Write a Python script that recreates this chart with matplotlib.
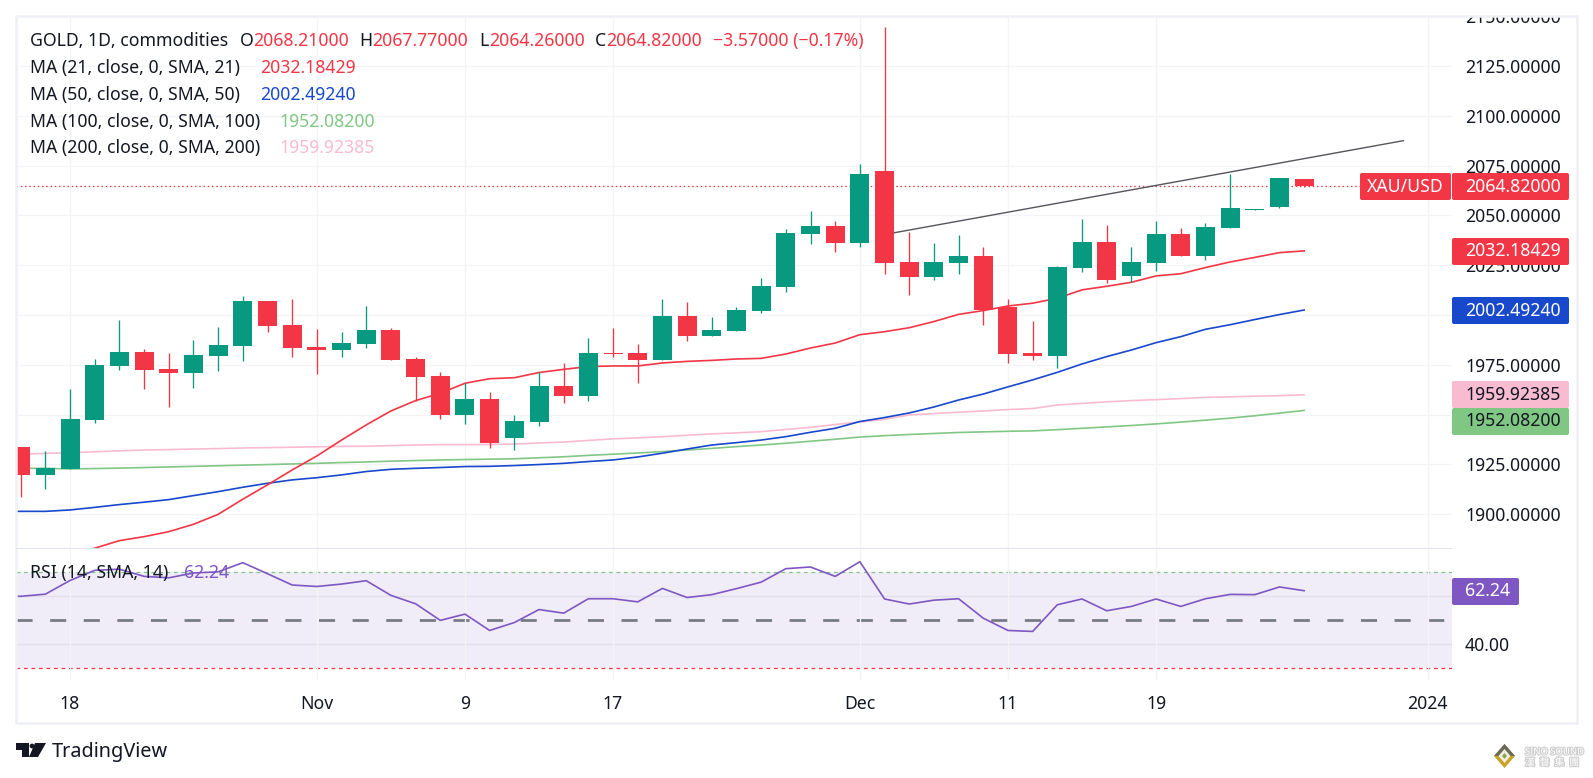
import numpy as np
import matplotlib
matplotlib.use("Agg")
import matplotlib.pyplot as plt
import matplotlib.patheffects as pe
from matplotlib.patches import Rectangle, FancyBboxPatch, Polygon, Circle
from matplotlib.transforms import Affine2D, Bbox

plt.rcParams['font.family'] = ['Noto Sans', 'Noto Sans CJK SC', 'DejaVu Sans']

### daily candles
opens = [1933.7, 1919.8, 1922.7, 1947.3, 1974.4, 1981.4, 1972.9, 1970.9, 1979.4, 1984.4,
         2007.0, 1995.0, 1983.9, 1982.4, 1985.4, 1992.5, 1977.9, 1969.4, 1949.8, 1957.8,
         1938.3, 1946.3, 1964.4, 1959.3, 1980.9, 1980.9, 1977.4, 1999.5, 1989.5, 1992.0,
         2002.0, 2014.1, 2040.7, 2044.7, 2036.1, 2072.3, 2026.6, 2019.1, 2026.1, 2029.6,
         2004.2, 1980.9, 1979.4, 2023.6, 2036.6, 2019.6, 2026.1, 2040.7, 2029.6, 2043.7,
         2052.7, 2054.2, 2068.21]
highs = [1933.7, 1931.7, 1962.9, 1977.9, 1997.5, 1982.9, 1980.9, 1987.4, 1994.0, 2009.5,
         2007.0, 2008.0, 1993.0, 1991.5, 2004.5, 1993.5, 1978.9, 1971.4, 1965.9, 1961.3,
         1949.8, 1971.4, 1975.9, 1988.5, 1993.5, 1985.4, 2008.0, 2006.5, 1999.0, 2004.0,
         2018.6, 2043.2, 2052.2, 2047.2, 2075.8, 2144.6, 2041.7, 2036.1, 2040.2, 2034.1,
         2008.0, 1997.0, 2024.6, 2048.2, 2045.2, 2034.1, 2047.2, 2043.7, 2046.2, 2070.8,
         2053.2, 2068.8, 2068.21]
lows = [1908.6, 1912.7, 1922.7, 1945.8, 1972.4, 1962.9, 1953.8, 1963.4, 1971.9, 1976.9,
        1991.5, 1978.9, 1970.4, 1978.9, 1983.4, 1977.4, 1956.8, 1947.8, 1945.3, 1933.2,
        1932.2, 1944.3, 1955.8, 1956.8, 1978.9, 1965.9, 1977.4, 1986.9, 1989.5, 1992.0,
        2001.0, 2011.5, 2035.6, 2031.6, 2034.1, 2020.6, 2010.0, 2017.6, 2020.6, 1995.0,
        1975.9, 1977.4, 1973.4, 2021.6, 2016.1, 2016.6, 2022.1, 2029.6, 2027.6, 2043.7,
        2052.7, 2053.7, 2064.26]
closes = [1919.8, 1923.2, 1947.8, 1974.9, 1981.4, 1972.4, 1970.9, 1979.9, 1984.9, 2007.0,
          1994.5, 1983.4, 1982.4, 1985.9, 1992.5, 1977.4, 1968.9, 1949.8, 1957.8, 1935.7,
          1946.8, 1964.4, 1959.3, 1980.9, 1980.4, 1977.4, 1999.5, 1989.5, 1992.5, 2002.5,
          2014.6, 2041.2, 2044.7, 2036.1, 2070.8, 2026.1, 2019.1, 2026.6, 2029.6, 2002.5,
          1980.4, 1979.4, 2024.1, 2036.6, 2017.6, 2026.6, 2040.7, 2029.6, 2044.2, 2053.7,
          2053.2, 2068.8, 2064.82]

# moving averages, first value sits just left of the first candle
ma21 = [1869.0, 1872.0, 1875.3, 1879.0, 1882.9, 1886.7, 1888.7, 1891.2, 1894.9, 1899.9,
        1907.5, 1914.7, 1922.2, 1929.2, 1937.2, 1944.8, 1951.8, 1957.0, 1960.7, 1965.7,
        1968.0, 1968.5, 1971.1, 1972.7, 1974.1, 1974.4, 1974.4, 1975.9, 1976.7, 1977.2,
        1977.9, 1978.2, 1980.4, 1983.4, 1985.9, 1990.1, 1991.6, 1993.6, 1996.7, 2000.3,
        2002.2, 2004.5, 2005.9, 2008.4, 2012.6, 2014.4, 2016.4, 2019.6, 2020.7, 2023.8,
        2026.6, 2028.9, 2031.3, 2032.18]
ma50 = [1901.4, 1901.4, 1901.4, 1902.1, 1903.4, 1904.8, 1906.0, 1907.3, 1909.3, 1911.3,
        1913.5, 1915.5, 1917.2, 1918.3, 1919.7, 1921.4, 1922.5, 1923.0, 1923.4, 1923.9,
        1924.0, 1924.4, 1924.9, 1925.5, 1926.4, 1927.2, 1928.7, 1930.6, 1932.7, 1934.7,
        1935.9, 1937.2, 1938.9, 1941.1, 1943.1, 1946.5, 1948.5, 1950.8, 1953.8, 1957.3,
        1960.3, 1963.9, 1967.4, 1971.2, 1975.4, 1979.1, 1982.4, 1986.1, 1989.1, 1992.8,
        1995.1, 1997.7, 2000.2, 2002.49]
ma100 = [1923.0, 1923.0, 1923.0, 1922.7, 1922.9, 1923.1, 1923.4, 1923.7, 1924.0, 1924.3,
         1924.6, 1924.9, 1925.2, 1925.5, 1925.9, 1926.2, 1926.6, 1926.9, 1927.2, 1927.4,
         1927.6, 1927.8, 1928.3, 1928.8, 1929.5, 1930.1, 1930.7, 1931.4, 1932.2, 1933.0,
         1933.9, 1934.7, 1935.6, 1936.6, 1937.6, 1938.7, 1939.4, 1940.0, 1940.5, 1941.0,
         1941.3, 1941.6, 1941.8, 1942.4, 1943.1, 1943.8, 1944.5, 1945.3, 1946.2, 1947.2,
         1948.2, 1949.4, 1950.7, 1952.08]
ma200 = [1929.7, 1930.1, 1930.5, 1930.9, 1931.3, 1931.8, 1932.2, 1932.4, 1932.7, 1932.9,
         1933.2, 1933.4, 1933.6, 1933.8, 1934.0, 1934.1, 1934.4, 1934.7, 1934.9, 1934.9,
         1935.0, 1935.2, 1935.7, 1936.2, 1937.0, 1937.8, 1938.3, 1938.9, 1939.6, 1940.3,
         1940.8, 1941.4, 1942.5, 1943.6, 1945.0, 1946.3, 1947.6, 1949.8, 1950.5, 1951.2,
         1951.8, 1952.5, 1953.0, 1954.8, 1955.6, 1956.4, 1957.0, 1957.5, 1958.0, 1958.6,
         1958.9, 1959.2, 1959.5, 1959.92]
rsi = [60.1, 59.9, 60.8, 66.5, 70.7, 71.2, 68.2, 67.6, 69.6, 70.1,
       73.9, 69.3, 64.6, 64.0, 65.0, 66.4, 60.3, 56.8, 49.9, 52.5,
       45.7, 49.0, 54.4, 52.9, 58.9, 58.9, 57.6, 63.2, 59.4, 60.6,
       63.1, 65.8, 71.4, 72.1, 68.2, 74.3, 58.8, 56.7, 58.3, 58.9,
       50.8, 45.7, 45.3, 56.4, 58.8, 53.9, 55.7, 58.8, 55.7, 58.9,
       60.7, 60.6, 63.8, 62.24]

trend_x = [35, 56.02]
trend_y = [2040.4, 2087.5]
last_price = 2064.82

price_ticks = [1900, 1925, 1950, 1975, 2000, 2025, 2050, 2075, 2100, 2125, 2150]
covered_ticks = [1950, 2000]     # sit behind the coloured price labels
time_ticks = [2, 12, 18, 24, 34, 40, 46, 57]
time_labels = ['18', 'Nov', '9', '17', 'Dec', '11', '19', '2024']

GREEN = '#089981'
RED = '#f23645'
BLUE = '#1848cc'
LIGHT_GREEN = '#81c784'
PINK = '#f8bbd0'
PURPLE = '#7e57c2'
INK = '#131722'
GRID = '#f4f4f7'
FS = 12.7

W, H = 1593, 778
fig = plt.figure(figsize=(W / 100, H / 100), dpi=100)
px = Affine2D().scale(1, -1).translate(0, H)   # pixel coords, origin top left

ax = fig.add_axes([16 / W, 1 - 548 / H, 1436 / W, 532 / H])
ax2 = fig.add_axes([16 / W, 1 - 680 / H, 1436 / W, 132 / H], sharex=ax)

### candles
idx = np.arange(len(closes))
o, h, l, c = map(np.array, (opens, highs, lows, closes))
up = c >= o
cols = np.where(up, GREEN, RED)
line_x = np.arange(-1, len(closes))

ax.axhline(last_price, color=RED, lw=0.9, ls=(0, (1.2, 2.2)), zorder=1)
ax.plot(trend_x, trend_y, color='#55555c', lw=1.0, zorder=1.5)
ax.plot(line_x, ma200, color=PINK, lw=1.2, zorder=2)
ax.plot(line_x, ma100, color=LIGHT_GREEN, lw=1.2, zorder=2)
ax.plot(line_x, ma50, color=BLUE, lw=1.2, zorder=2)
ax.plot(line_x, ma21, color=RED, lw=1.2, zorder=2)
ax.vlines(idx, l, h, colors=cols, lw=0.95, zorder=3)
ax.bar(idx, np.maximum(np.abs(c - o), 0.5), bottom=np.minimum(o, c), width=0.77, color=cols, lw=0, zorder=4)

ax.set_xlim(-0.19, 57.99)
ax.set_ylim(1883.0, 2150.1)
ax.set_yticks(price_ticks)
ax.set_yticklabels(['' if v in covered_ticks else '%.5f' % v for v in price_ticks])
ax.yaxis.tick_right()
ax.tick_params(axis='y', length=0, pad=9.4, labelsize=FS, labelcolor=INK)
ax.tick_params(axis='x', length=0, labelbottom=False)
ax.set_xticks(time_ticks)
ax.grid(True, color=GRID, lw=0.9)
ax.set_axisbelow(True)
for s in ax.spines.values():
    s.set_visible(False)
for lab in ax.get_yticklabels():
    lab.set_clip_box(Bbox([[0, 0], [W, H - 16]]))   # top label is cut by the frame
    lab.set_clip_on(True)

### RSI
ax2.axhspan(30, 70, color='#f0edf8', lw=0, zorder=0)
ax2.axhline(70, color=LIGHT_GREEN, lw=0.9, ls=(0, (3, 3)), zorder=1)
ax2.axhline(30, color=RED, lw=0.9, ls=(0, (3, 3)), zorder=1)
ax2.axhline(50, color='#787b86', lw=2.0, ls=(0, (5.8, 6.3)), zorder=1)
ax2.plot(line_x, rsi, color=PURPLE, lw=1.2, zorder=3)
ax2.set_ylim(25.1, 80)
ax2.set_yticks([40, 60])
ax2.set_yticklabels(['40.00', ''])
ax2.yaxis.tick_right()
ax2.tick_params(axis='y', length=0, pad=9.4, labelsize=FS, labelcolor=INK)
ax2.set_xticks(time_ticks)
ax2.set_xticklabels(time_labels)
ax2.tick_params(axis='x', length=0, pad=11, labelsize=FS, labelcolor=INK)
ax2.get_xticklabels()[-1].set_fontweight('bold')
ax2.grid(True, axis='x', color=GRID, lw=0.9, zorder=0)
for v in [40, 60]:
    ax2.axhline(v, color='#e3dff0', lw=1.0, zorder=0.5)
ax2.patch.set_alpha(0)
for s in ax2.spines.values():
    s.set_visible(False)

### frame and separator
fig.add_artist(Rectangle((15.5, 15.5), 1561, 707, fill=False, ec='#eff0f5', lw=1.8, transform=px))
fig.add_artist(Rectangle((16, 547.5), 1436, 1.5, fc='#e0e3eb', ec='none', transform=px))

### price labels on the scale
def price_box(x0, x1, y0, y1, fc, txt, tc='white', tx=1465, ha='left'):
    fig.add_artist(FancyBboxPatch((x0, y0), x1 - x0, y1 - y0, boxstyle='round,pad=0,rounding_size=2',
                                  fc=fc, ec='none', transform=px))
    fig.text(tx, (y0 + y1) / 2, txt, color=tc, fontsize=FS, va='center', ha=ha, transform=px)

price_box(1360, 1451, 173, 200, RED, 'XAU/USD', tx=1405.5, ha='center')
price_box(1452, 1569, 173, 200, RED, '2064.82000')
price_box(1452, 1569, 238, 265, RED, '2032.18429')
price_box(1452, 1569, 297, 324, BLUE, '2002.49240')
price_box(1452, 1569, 381, 408, PINK, '1959.92385', tc=INK)
price_box(1452, 1569, 408, 435, LIGHT_GREEN, '1952.08200', tc=INK)
price_box(1452, 1519, 578, 605, PURPLE, '62.24')

### legend
def t(x, y, s, col=INK):
    fig.text(x, y, s, color=col, fontsize=FS, va='center', ha='left', transform=px)

t(29.6, 40.7, 'GOLD, 1D, commodities')
t(240, 40.7, 'O')
t(253.4, 40.7, '2068.21000', RED)
t(359.3, 40.7, 'H')
t(372, 40.7, '2067.77000', RED)
t(479, 40.7, 'L')
t(488.8, 40.7, '2064.26000', RED)
t(594.6, 40.7, 'C')
t(606, 40.7, '2064.82000', RED)
t(713, 40.7, '\u22123.57000 (\u22120.17%)', RED)
t(29.6, 67.7, 'MA (21, close, 0, SMA, 21)')
t(260, 67.7, '2032.18429', RED)
t(29.6, 95, 'MA (50, close, 0, SMA, 50)')
t(260, 95, '2002.49240', BLUE)
t(29.6, 121.7, 'MA (100, close, 0, SMA, 100)')
t(279.8, 121.7, '1952.08200', LIGHT_GREEN)
t(29.6, 148.3, 'MA (200, close, 0, SMA, 200)')
t(279.8, 148.3, '1959.92385', PINK)
t(29.6, 573, 'RSI (14, SMA, 14)')
t(183.7, 573, '62.24', PURPLE)

### TradingView logo
fig.add_artist(Polygon([(16, 743), (28.5, 743), (28.5, 757), (21.8, 757), (21.8, 749.5), (16, 749.5)], fc=INK, ec='none', transform=px))
fig.add_artist(Circle((32, 746), 2.4, fc=INK, ec='none', transform=px))
fig.add_artist(Polygon([(35, 743), (46, 743), (38, 757), (29, 757)], fc=INK, ec='none', transform=px))
fig.text(52, 751.5, 'TradingView', color=INK, fontsize=14.3, va='center', ha='left', transform=px)

### watermark
fig.add_artist(Polygon([(1504.5, 744), (1515, 756), (1504.5, 768), (1494, 756)], fc='#c9a227', ec='none', transform=px))
fig.add_artist(Polygon([(1504.5, 744), (1515, 756), (1494, 756)], fc='#6a6a5c', ec='none', transform=px))
fig.add_artist(Polygon([(1504.5, 749), (1510.5, 756), (1504.5, 763), (1498.5, 756)], fc='#f2f0d8', ec='none', transform=px))
fig.add_artist(Polygon([(1504.5, 753), (1507, 756), (1504.5, 759), (1502, 756)], fc='#8aa35a', ec='none', transform=px))
shadow = [pe.withStroke(linewidth=1.6, foreground='#cfcfcf')]
fig.text(1525, 752, 'SINO SOUND', color='white', fontsize=6.8, fontweight='bold', va='center', ha='left',
         transform=px, path_effects=shadow)
fig.text(1525, 763, '\u6f22  \u8072  \u96c6  \u5718', color='white', fontsize=7, va='center', ha='left',
         transform=px, path_effects=shadow)

fig.savefig("out.png", dpi=100)
plt.close()
